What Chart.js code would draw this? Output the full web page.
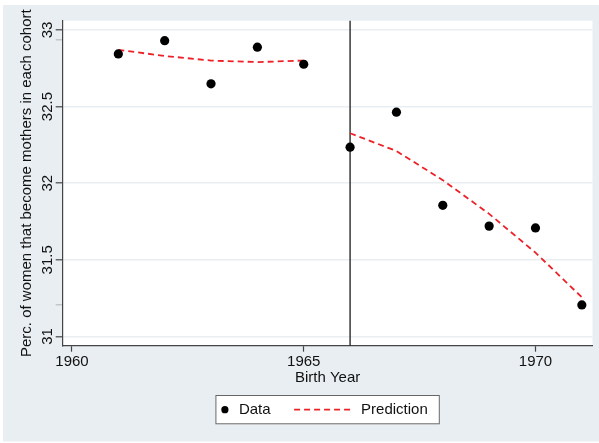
<!DOCTYPE html>
<html>
<head>
<meta charset="utf-8">
<script src="https://cdn.jsdelivr.net/npm/chart.js@4/dist/chart.umd.min.js"></script>
<style>
  html, body { margin: 0; padding: 0; background: #fff; }
  #wrap { width: 599px; height: 443px; position: relative; }
</style>
</head>
<body>
<div id="wrap"><canvas id="chart"></canvas></div>
<script>
// data
const years = [1961, 1962, 1963, 1964, 1965, 1966, 1967, 1968, 1969, 1970, 1971];
const dataValues = [32.843, 32.93, 32.648, 32.887, 32.776, 32.235, 32.463, 31.856, 31.72, 31.708, 31.206];

const predLeftYears = [1961, 1962, 1963, 1964, 1965];
const predLeftValues = [32.87, 32.83, 32.80, 32.79, 32.80];
const predRightYears = [1966, 1967, 1968, 1969, 1970, 1971];
const predRightValues = [32.326, 32.21, 32.02, 31.80, 31.547, 31.256];

const cutoffYear = 1966;
const xTicks = [1960, 1965, 1970];
const yTicks = [31, 31.5, 32, 32.5, 33];
const yMinorTicks = [31.21, 32.935];

const FONT = { family: '"Liberation Sans", Arial, Helvetica, sans-serif', size: 15 };
const TEXT = '#111';
const AXIS = '#444';
const BG = '#e9eef2';

function buildPoints(xs, ys) {
    return xs.map((x, i) => ({ x: x, y: ys[i] }));
}

const predPoints = buildPoints(predLeftYears, predLeftValues)
    .concat([{ x: 1965.5, y: null }])
    .concat(buildPoints(predRightYears, predRightValues));

// gray graph region + white plot region
const background = {
    id: 'background',
    beforeDraw(chart) {
        const { ctx, chartArea } = chart;
        ctx.save();
        ctx.fillStyle = '#fff';
        ctx.fillRect(0, 0, chart.width, chart.height);
        ctx.fillStyle = BG;
        ctx.fillRect(3, 5, chart.width - 3, chart.height - 6.5);
        ctx.fillStyle = '#fff';
        ctx.fillRect(chartArea.left, chartArea.top, chartArea.right - chartArea.left, chartArea.bottom - chartArea.top);
        ctx.restore();
    }
};

// vertical line at the cutoff
const cutoffLine = {
    id: 'cutoffLine',
    beforeDatasetsDraw(chart) {
        const { ctx, chartArea, scales } = chart;
        const x = scales.x.getPixelForValue(cutoffYear);
        ctx.save();
        ctx.strokeStyle = '#2a2a2a';
        ctx.lineWidth = 1.4;
        ctx.beginPath();
        ctx.moveTo(x, chartArea.top);
        ctx.lineTo(x, chartArea.bottom);
        ctx.stroke();
        ctx.restore();
    }
};

// boxed legend under the axis title
const boxLegend = {
    id: 'boxLegend',
    afterDraw(chart) {
        const { ctx, chartArea } = chart;
        const ds = chart.data.datasets;
        ctx.save();
        ctx.font = FONT.size + 'px ' + FONT.family;
        const w1 = ctx.measureText(ds[0].label).width;
        const w2 = ctx.measureText(ds[1].label).width;
        const lineLen = 57;
        const boxW = 23.5 + w1 + 23.5 + lineLen + 10 + w2 + 12;
        const boxH = 29.3;
        const cx = (chartArea.left + chartArea.right) / 2;
        const left = cx - boxW / 2;
        const top = 395;
        const cy = top + boxH / 2;

        ctx.fillStyle = '#fff';
        ctx.fillRect(left, top, boxW, boxH);
        ctx.strokeStyle = '#666';
        ctx.lineWidth = 1;
        ctx.strokeRect(left + 0.5, top + 0.5, boxW - 1, boxH - 1);

        // data marker
        ctx.fillStyle = ds[0].pointBackgroundColor;
        ctx.beginPath();
        ctx.arc(left + 9.5, cy, 3.6, 0, Math.PI * 2);
        ctx.fill();
        ctx.fillStyle = TEXT;
        ctx.textBaseline = 'middle';
        ctx.fillText(ds[0].label, left + 23.5, cy);

        // prediction line
        const lx = left + 23.5 + w1 + 23.5;
        ctx.strokeStyle = ds[1].borderColor;
        ctx.lineWidth = ds[1].borderWidth;
        ctx.setLineDash(ds[1].borderDash);
        ctx.beginPath();
        ctx.moveTo(lx, cy);
        ctx.lineTo(lx + lineLen, cy);
        ctx.stroke();
        ctx.setLineDash([]);
        ctx.fillStyle = TEXT;
        ctx.fillText(ds[1].label, lx + lineLen + 10, cy);
        ctx.restore();
    }
};

const ctx = document.getElementById('chart').getContext('2d');
new Chart(ctx, {
    type: 'line',
    data: {
        datasets: [{
            label: 'Data',
            data: buildPoints(years, dataValues),
            showLine: false,
            pointRadius: 4.6,
            pointBackgroundColor: '#000',
            pointBorderColor: '#000',
            pointBorderWidth: 0,
            order: 1
        }, {
            label: 'Prediction',
            data: predPoints,
            borderColor: '#ec2228',
            borderWidth: 1.8,
            borderDash: [6, 4],
            pointRadius: 0,
            tension: 0,
            spanGaps: false,
            order: 2
        }]
    },
    options: {
        responsive: true,
        maintainAspectRatio: false,
        animation: false,
        layout: { padding: { left: 18, top: 20.7, right: 6.5, bottom: 55.7 } },
        plugins: {
            legend: { display: false },
            tooltip: { enabled: false }
        },
        scales: {
            x: {
                type: 'linear',
                min: 1959.8,
                max: 1971.23,
                afterBuildTicks: s => { s.ticks = xTicks.map(v => ({ value: v })); },
                afterFit: s => { s.height = 41.6; },
                grid: { drawOnChartArea: false, tickColor: AXIS, tickLength: 6, tickWidth: 1.2 },
                border: { color: AXIS, width: 1.2 },
                ticks: { padding: 1, maxRotation: 0, font: FONT, color: TEXT, callback: v => String(v) },
                title: { display: true, text: 'Birth Year', font: FONT, color: TEXT, padding: 0 }
            },
            y: {
                type: 'linear',
                min: 30.94,
                max: 33.06,
                afterBuildTicks: s => { s.ticks = yTicks.concat(yMinorTicks).map(v => ({ value: v })); },
                afterFit: s => { s.width = 44.7; },
                grid: {
                    color: c => (c.tick && yTicks.includes(c.tick.value)) ? BG : 'rgba(0,0,0,0)',
                    tickColor: c => (c.tick && yTicks.includes(c.tick.value)) ? AXIS : '#bbb',
                    lineWidth: 1.6,
                    tickWidth: 1.2,
                    tickLength: 7
                },
                border: { color: AXIS, width: 1.2 },
                ticks: {
                    minRotation: 90,
                    maxRotation: 90,
                    crossAlign: 'center',
                    padding: -7,
                    autoSkip: false,
                    font: FONT,
                    color: TEXT,
                    callback: v => yTicks.includes(v) ? String(v) : ''
                },
                title: { display: true, text: 'Perc. of women that become mothers in each cohort', font: FONT, color: TEXT, padding: 0 }
            }
        }
    },
    plugins: [background, cutoffLine, boxLegend]
});
</script>
</body>
</html>
